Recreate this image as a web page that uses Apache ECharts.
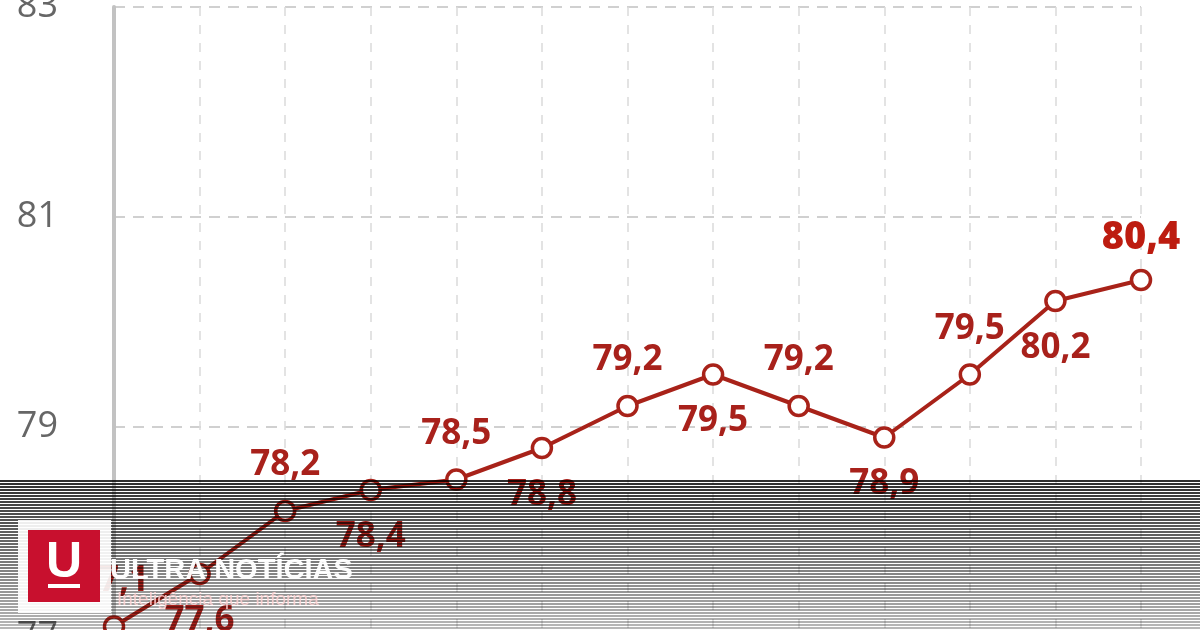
<!DOCTYPE html>
<html>
<head>
<meta charset="utf-8">
<style>
  html, body { margin: 0; padding: 0; background: #ffffff; }
  #chart { width: 1200px; height: 630px; }
</style>
<script src="https://cdn.jsdelivr.net/npm/echarts@6/dist/echarts.min.js"></script>
</head>
<body>
<div id="chart"></div>
<script>
// Categories (axis labels are cropped out of the reference picture)
const categories = ['2010', '2011', '2012', '2013', '2014', '2015', '2016', '2017', '2018', '2019', '2020', '2021', '2022'];
// Series values
const values = [77.1, 77.6, 78.2, 78.4, 78.5, 78.8, 79.2, 79.5, 79.2, 78.9, 79.5, 80.2, 80.4];
// Y axis range / ticks
const yMin = 77;
const yMax = 83;
const yStep = 2;

const lineColor = '#a82219';
const labelColor = '#a8211b';
const lastLabelColor = '#bd1c10';

const chart = echarts.init(document.getElementById('chart'), null, { renderer: 'canvas' });

const seriesData = values.map((v, i) => {
  const isLast = i === values.length - 1;
  const above = i % 2 === 0;
  const item = {
    value: v,
    label: {
      position: above ? 'top' : 'bottom',
      distance: above ? 17 : 18
    }
  };
  if (isLast) {
    item.label.color = lastLabelColor;
    item.label.fontWeight = 900;
    item.label.fontSize = 38;
    item.label.distance = 12;
  }
  return item;
});

// Decorative watermark overlay (striped band + logo)
const overlay = [];
const bandTop = 480, bandBottom = 630;
for (let y = bandTop; y < bandBottom; y += 3) {
  const t = (y - bandTop) / (bandBottom - bandTop);
  overlay.push({
    type: 'rect',
    silent: true,
    z: 100,
    shape: { x: 0, y: y, width: 1200, height: 2 },
    style: { fill: 'rgba(0,0,0,' + (0.82 - 0.55 * t).toFixed(3) + ')' }
  });
}
overlay.push(
  { type: 'rect', silent: true, z: 110, shape: { x: 18, y: 520, width: 93, height: 93 }, style: { fill: 'rgba(255,255,255,0.9)' } },
  { type: 'rect', silent: true, z: 111, shape: { x: 28, y: 530, width: 72, height: 72 }, style: { fill: '#c8102e' } },
  { type: 'text', silent: true, z: 112, x: 64, y: 563, style: { text: 'U', fill: '#ffffff', font: 'bold 50px "Liberation Sans", Arial, sans-serif', align: 'center', verticalAlign: 'middle' } },
  { type: 'rect', silent: true, z: 112, shape: { x: 48, y: 584, width: 32, height: 4 }, style: { fill: '#ffffff' } },
  { type: 'text', silent: true, z: 112, x: 110, y: 571, style: { text: 'ULTRA NOTÍCIAS', fill: 'rgba(255,255,255,0.97)', font: 'bold 29px "Liberation Sans", Arial, sans-serif', align: 'left', verticalAlign: 'middle' } },
  { type: 'text', silent: true, z: 112, x: 117, y: 600, style: { text: 'Inteligência que informa', fill: 'rgba(255,210,210,0.85)', font: '19px "Liberation Sans", Arial, sans-serif', align: 'left', verticalAlign: 'middle' } }
);

const option = {
  animation: false,
  backgroundColor: '#ffffff',
  grid: { left: 114, right: 59, top: 7, bottom: -7, containLabel: false, outerBoundsMode: 'none' },
  xAxis: {
    type: 'category',
    data: categories,
    boundaryGap: false,
    axisLine: { show: false },
    axisTick: { show: false },
    axisLabel: { show: false },
    splitLine: { show: true, lineStyle: { color: '#dadada', width: 1.5, type: [9, 9] } }
  },
  yAxis: {
    type: 'value',
    min: yMin,
    max: yMax,
    interval: yStep,
    axisLine: { show: true, lineStyle: { color: '#c2c2c2', width: 4 } },
    axisTick: { show: false },
    axisLabel: {
      margin: 56,
      color: '#666666',
      fontSize: 36,
      fontFamily: '"Open Sans", "Noto Sans", sans-serif',
      formatter: v => String(v)
    },
    splitLine: { show: true, lineStyle: { color: '#d0d0d0', width: 2, type: [11, 8] } }
  },
  series: [{
    type: 'line',
    data: seriesData,
    symbol: 'circle',
    symbolSize: 19,
    showAllSymbol: true,
    lineStyle: { color: lineColor, width: 4 },
    itemStyle: { color: '#ffffff', borderColor: lineColor, borderWidth: 3.5 },
    label: {
      show: true,
      color: labelColor,
      fontSize: 35,
      fontWeight: 'bold',
      fontFamily: '"Open Sans", "Noto Sans", sans-serif',
      formatter: p => p.value.toFixed(1).replace('.', ',')
    },
    z: 5
  }],
  graphic: overlay
};

chart.setOption(option);
</script>
</body>
</html>
